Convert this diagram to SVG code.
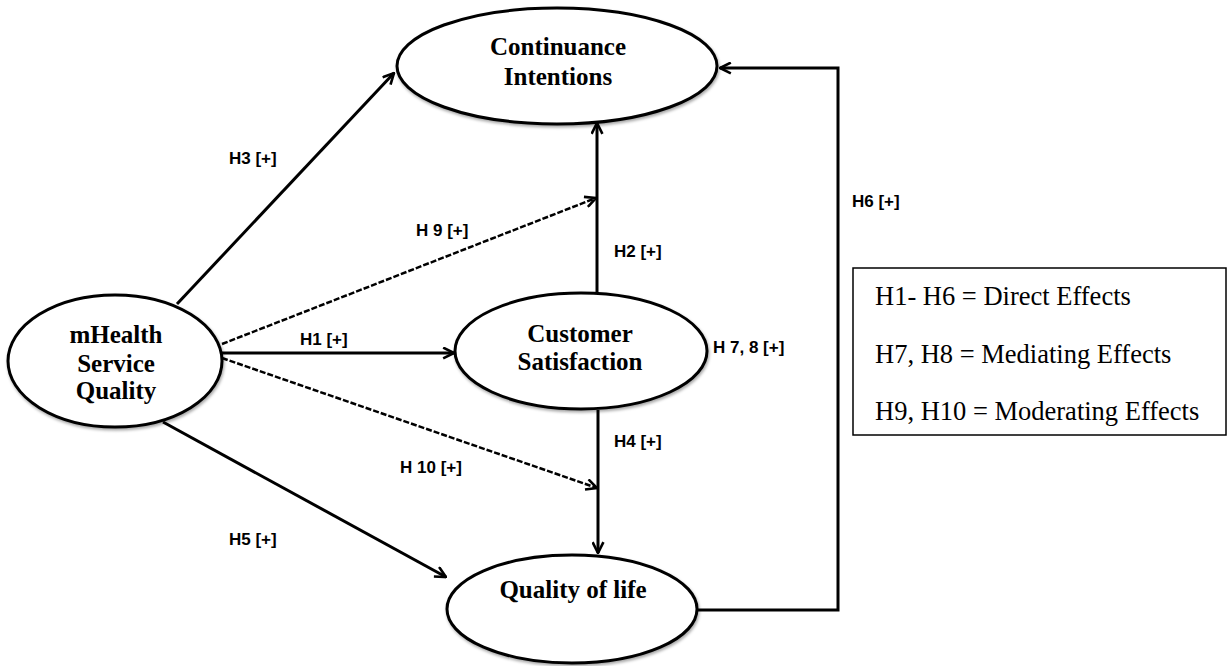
<svg xmlns="http://www.w3.org/2000/svg" width="1230" height="666" viewBox="0 0 1230 666">
<style>
.node{fill:#fff;stroke:#000;stroke-width:3;filter:url(#sh)}
.nt{font-family:"Liberation Serif","Times New Roman",serif;font-weight:bold;font-size:25px;fill:#000;text-anchor:middle}
.lbl{font-family:"Liberation Sans",Arial,sans-serif;font-weight:bold;font-size:17px;fill:#000}
.leg{font-family:"Liberation Serif","Times New Roman",serif;font-size:26.5px;fill:#000}
.c{fill:none;stroke:#000;stroke-width:3;marker-end:url(#ah)}
.d{fill:none;stroke:#000;stroke-width:2.5;stroke-dasharray:6 2;marker-end:url(#ah)}
</style>
<defs>
<filter id="sh" x="-10%" y="-10%" width="120%" height="130%">
<feDropShadow dx="1" dy="2" stdDeviation="1.5" flood-color="#000" flood-opacity="0.35"/>
</filter>
<marker id="ah" viewBox="0 0 12 12" refX="11" refY="6" markerWidth="13" markerHeight="13" markerUnits="userSpaceOnUse" orient="auto">
<path d="M1,1 L11,6 L1,11" fill="none" stroke="#000" stroke-width="2.4"/>
</marker>
</defs>
<rect width="1230" height="666" fill="#fff"/>
<g id="connectors">
<path class="c" d="M177,304 L394,73"/>
<path class="d" d="M222,344 L596,198"/>
<path class="c" d="M222,353 L454,353"/>
<path class="d" d="M222,358 L597,488"/>
<path class="c" d="M163,422 L446,577"/>
<path class="c" d="M597,293 L597,123"/>
<path class="c" stroke-width="3.5" d="M598,410 L598,553"/>
<path class="c" stroke-width="4" d="M698,610 L838,610 L838,68 L720,68"/>
</g>
<g id="labels">
<text class="lbl" x="229" y="164">H3 [+]</text>
<text class="lbl" x="416" y="236">H 9 [+]</text>
<text class="lbl" x="614" y="257">H2 [+]</text>
<text class="lbl" x="300" y="345">H1 [+]</text>
<text class="lbl" x="713" y="353">H 7, 8 [+]</text>
<text class="lbl" x="614" y="447">H4 [+]</text>
<text class="lbl" x="400" y="473">H 10 [+]</text>
<text class="lbl" x="229" y="545">H5 [+]</text>
<text class="lbl" x="852" y="207">H6 [+]</text>
</g>
<g id="continuance">
<ellipse class="node" cx="557" cy="66" rx="160" ry="58"/>
<text class="nt" x="558" y="55">Continuance</text>
<text class="nt" x="558" y="85">Intentions</text>
</g>
<g id="mhealth">
<ellipse class="node" cx="115" cy="361" rx="107" ry="66"/>
<text class="nt" x="116" y="343">mHealth</text>
<text class="nt" x="116" y="372">Service</text>
<text class="nt" x="116" y="399">Quality</text>
</g>
<g id="satisfaction">
<ellipse class="node" cx="581" cy="351" rx="126" ry="58"/>
<text class="nt" x="580" y="342">Customer</text>
<text class="nt" x="580" y="370">Satisfaction</text>
</g>
<g id="quality">
<ellipse class="node" cx="572" cy="609" rx="125" ry="54"/>
<text class="nt" x="573" y="598">Quality of life</text>
</g>
<g id="legend">
<rect x="853" y="268" width="373" height="167" fill="#fff" stroke="#000" stroke-width="1.5"/>
<text class="leg" x="875" y="305">H1- H6 = Direct Effects</text>
<text class="leg" x="875" y="363">H7, H8 = Mediating Effects</text>
<text class="leg" x="875" y="420">H9, H10 = Moderating Effects</text>
</g>
</svg>
